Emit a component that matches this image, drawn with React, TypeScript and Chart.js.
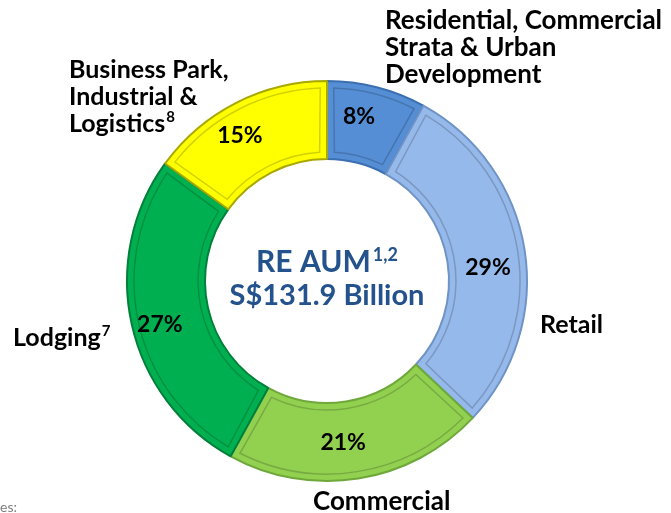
import React, { useEffect, useRef } from "react";
import { Chart, registerables } from "chart.js";

Chart.register(...registerables);

const categories = [
  "Residential, Commercial Strata & Urban Development",
  "Retail",
  "Commercial",
  "Lodging",
  "Business Park, Industrial & Logistics",
];
const shares = [8, 29, 21, 27, 15];
const percentLabels = ["8%", "29%", "21%", "27%", "15%"];
const fillColors = ["#558ed5", "#95b9ea", "#92d050", "#00b050", "#ffff00"];
const edgeColors = ["#3b6fb0", "#6f93c4", "#6ea83a", "#00803a", "#a8a800"];
const centerTitle = "RE AUM";
const centerTitleSup = "1,2";
const centerValue = "S$131.9 Billion";

const FONT = "Lato, 'Noto Sans', sans-serif";

type Line = { t: string; sup?: string };

// outside label blocks: lines, x offset from centre, baseline of first line offset from centre
const outsideLabels: { lines: Line[]; dx: number; dy: number; size: number }[] = [
  { lines: [{ t: "Residential, Commercial" }, { t: "Strata & Urban" }, { t: "Development" }], dx: 58, dy: -252, size: 26 },
  { lines: [{ t: "Retail" }], dx: 213, dy: 52, size: 25 },
  { lines: [{ t: "Commercial" }], dx: -14, dy: 229, size: 26 },
  { lines: [{ t: "Lodging", sup: "7" }], dx: -314, dy: 65, size: 25 },
  { lines: [{ t: "Business Park," }, { t: "Industrial &" }, { t: "Logistics", sup: "8" }], dx: -258, dy: -203, size: 25 },
];

const labelNudge = [
  [-8, -8],
  [2, 12],
  [-9, 3],
  [-10, 8],
  [-14, -2],
];

const textPlugin = {
  id: "textPlugin",
  afterDatasetsDraw(chart: any) {
    const ctx = chart.ctx as CanvasRenderingContext2D;
    const meta = chart.getDatasetMeta(0);
    if (!meta.data.length) return;
    const first = meta.data[0];
    const cx = first.x;
    const cy = first.y;
    ctx.save();
    // percent labels
    ctx.fillStyle = "#000000";
    ctx.font = `bold 23px ${FONT}`;
    ctx.textAlign = "center";
    ctx.textBaseline = "middle";
    meta.data.forEach((arc: any, i: number) => {
      const mid = (arc.startAngle + arc.endAngle) / 2;
      const r = (arc.innerRadius + arc.outerRadius) / 2;
      const x = arc.x + Math.cos(mid) * r + labelNudge[i][0];
      const y = arc.y + Math.sin(mid) * r + labelNudge[i][1];
      ctx.fillText(percentLabels[i], x, y);
    });

    // outside labels
    ctx.textAlign = "left";
    ctx.textBaseline = "alphabetic";
    outsideLabels.forEach((blk) => {
      blk.lines.forEach((ln, j) => {
        const x = cx + blk.dx;
        const y = cy + blk.dy + j * 27;
        ctx.font = `bold ${blk.size}px ${FONT}`;
        ctx.fillText(ln.t, x, y);
        if (ln.sup) {
          const w = ctx.measureText(ln.t).width;
          ctx.font = `bold 15px ${FONT}`;
          ctx.fillText(ln.sup, x + w + 1, y - 10);
        }
      });
    });

    // centre text
    ctx.fillStyle = "#24528c";
    ctx.font = `bold 30px ${FONT}`;
    const tw = ctx.measureText(centerTitle).width;
    ctx.font = `bold 18px ${FONT}`;
    const sw = ctx.measureText(centerTitleSup).width;
    const startX = cx - (tw + sw + 2) / 2;
    ctx.font = `bold 30px ${FONT}`;
    ctx.fillText(centerTitle, startX, cy - 9);
    ctx.font = `bold 18px ${FONT}`;
    ctx.fillText(centerTitleSup, startX + tw + 2, cy - 20);
    ctx.font = `bold 29px ${FONT}`;
    ctx.textAlign = "center";
    ctx.fillText(centerValue, cx, cy + 24);

    // cut-off footnote fragment
    ctx.fillStyle = "#7f7f7f";
    ctx.font = `14px ${FONT}`;
    ctx.textAlign = "right";
    ctx.fillText("Notes:", 17, 512);
    ctx.restore();
  },
};

const bevelPlugin = {
  id: "bevelPlugin",
  afterDatasetDraw(chart: any) {
    const ctx = chart.ctx as CanvasRenderingContext2D;
    const meta = chart.getDatasetMeta(0);
    ctx.save();
    meta.data.forEach((arc: any) => {
      const inset = 7;
      const pad = inset / arc.outerRadius;
      ctx.beginPath();
      ctx.arc(arc.x, arc.y, arc.outerRadius - inset, arc.startAngle + pad, arc.endAngle - pad);
      ctx.arc(arc.x, arc.y, arc.innerRadius + inset, arc.endAngle - inset / arc.innerRadius, arc.startAngle + inset / arc.innerRadius, true);
      ctx.closePath();
      ctx.strokeStyle = "rgba(0,0,0,0.18)";
      ctx.lineWidth = 1.5;
      ctx.stroke();
    });
    ctx.restore();
  },
};

export default function App() {
  const ref = useRef<HTMLCanvasElement | null>(null);
  useEffect(() => {
    if (!ref.current) return;
    const chart = new Chart(ref.current, {
      type: "doughnut",
      data: {
        labels: categories,
        datasets: [
          {
            data: shares,
            backgroundColor: fillColors,
            borderColor: edgeColors,
            borderWidth: 2,
          },
        ],
      },
      options: {
        responsive: false,
        animation: false,
        cutout: "61%",
        layout: { padding: { top: 80, bottom: 31, left: 0, right: 17 } },
        plugins: {
          legend: { display: false },
          tooltip: { enabled: false },
        },
      },
      plugins: [bevelPlugin, textPlugin],
    });
    return () => chart.destroy();
  }, []);
  return (
    <div style={{ position: "absolute", left: 0, top: 0, width: 671, height: 513, background: "#ffffff" }}>
      <canvas ref={ref} width={671} height={513} />
    </div>
  );
}
